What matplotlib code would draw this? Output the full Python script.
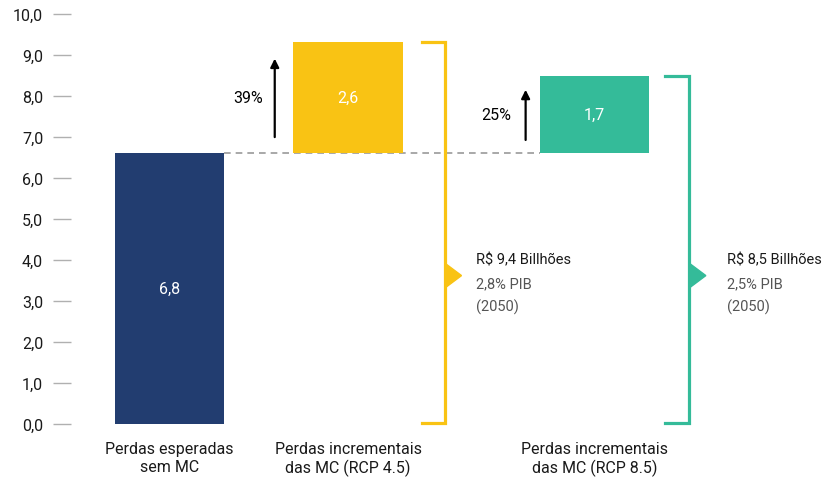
import numpy as np
import matplotlib
matplotlib.use("Agg")
import matplotlib.pyplot as plt
from matplotlib.patches import Polygon

plt.rcParams['font.family'] = ['Roboto', 'DejaVu Sans']

# data
categories = ['Perdas esperadas\nsem MC', 'Perdas incrementais\ndas MC (RCP 4.5)', 'Perdas incrementais\ndas MC (RCP 8.5)']
bar_bottoms = [0.0, 6.6, 6.6]
bar_tops = [6.6, 9.32, 8.49]
bar_labels = ['6,8', '2,6', '1,7']
pct_labels = ['39%', '25%']
arrow_from = [6.93, 6.86]
arrow_to = [8.98, 8.22]
totals = ['R$ 9,4 Billhões', 'R$ 8,5 Billhões']
pib = ['2,8% PIB', '2,5% PIB']
year = ['(2050)', '(2050)']
yticks = np.arange(0, 10.5, 1.0)

# layout
xpos = [0.0, 1.63, 3.88]
bar_w = 1.0
colors = ['#223d70', '#f9c314', '#34bb99']
bracket_x = [2.515, 4.745]
bracket_x0 = [2.30, 4.52]
text_x = [2.795, 5.09]
arrow_x = [0.96, 3.25]
pct_x = [0.72, 2.98]
bracket_mid = 3.62

fig = plt.figure(figsize=(8.28, 4.81), dpi=100)
ax = fig.add_axes([0.0857, 0.1164, 0.9143, 0.8524])
ax.set_xlim(-0.9, 6.01)
ax.set_ylim(0, 10)

heights = [t - b for t, b in zip(bar_tops, bar_bottoms)]
ax.bar(xpos, heights, bottom=bar_bottoms, width=bar_w, color=colors, zorder=2)
for x, b, h, lab in zip(xpos, bar_bottoms, heights, bar_labels):
    ax.text(x, b + h / 2, lab, color='white', ha='center', va='center', fontsize=11.5)

# dashed reference line at top of base bar
ax.plot([xpos[0] + bar_w / 2, xpos[2] - bar_w / 2], [bar_tops[0], bar_tops[0]],
        ls=(0, (4, 3)), color='#9a9a9a', lw=1.2, zorder=1)

# growth arrows
for i in range(2):
    ax.annotate('', xy=(arrow_x[i], arrow_to[i]), xytext=(arrow_x[i], arrow_from[i]),
                arrowprops=dict(arrowstyle='-|>,head_width=0.25,head_length=0.5', color='black', lw=1.6))
    ax.text(pct_x[i], (arrow_from[i] + arrow_to[i]) / 2, pct_labels[i], ha='center', va='center', fontsize=11.5)

# brackets with pointers and totals
for i in range(2):
    c = colors[i + 1]
    top = bar_tops[i + 1]
    ax.plot([bracket_x0[i], bracket_x[i], bracket_x[i], bracket_x0[i]], [top, top, 0.02, 0.02],
            color=c, lw=2.3, clip_on=False, solid_joinstyle='miter')
    tri = Polygon([[bracket_x[i], bracket_mid + 0.3], [bracket_x[i] + 0.15, bracket_mid],
                   [bracket_x[i], bracket_mid - 0.3]], closed=True, color=c, clip_on=False)
    ax.add_patch(tri)
    ax.text(text_x[i], 4.02, totals[i], ha='left', va='center', fontsize=10.5, color='#1a1a1a')
    ax.text(text_x[i], 3.44, pib[i], ha='left', va='center', fontsize=10.5, color='#555555')
    ax.text(text_x[i], 2.86, year[i], ha='left', va='center', fontsize=10.5, color='#555555')

# category labels
for x, cat in zip(xpos, categories):
    ax.text(x, -0.42, cat, ha='center', va='top', fontsize=11.5, color='#1a1a1a', linespacing=1.2)

ax.set_yticks(yticks)
ax.set_yticklabels([f'{v:.1f}'.replace('.', ',') for v in yticks], fontsize=11.5, color='#1a1a1a')
ax.tick_params(axis='y', length=13, width=1, color='#b0b0b0', pad=7)
ax.set_xticks([])
for s in ax.spines.values():
    s.set_visible(False)

fig.savefig('out.png', dpi=100)
